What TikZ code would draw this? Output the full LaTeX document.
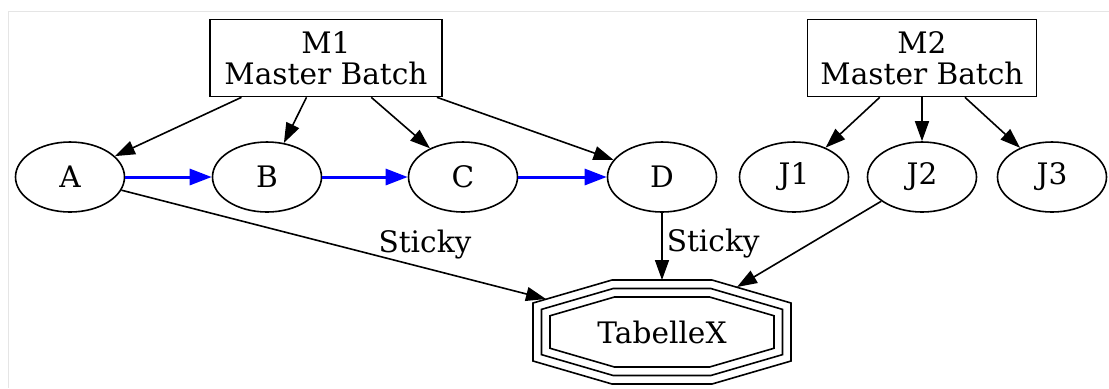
\documentclass[tikz,border=0pt]{standalone}
\usepackage{fontspec}
\setmainfont{DejaVu Serif}
\usepackage{tikz}
\usetikzlibrary{arrows.meta,shapes.geometric}

\begin{document}
\begin{tikzpicture}[x=0.5pt, y=-0.5pt,
  every node/.style={font=\fontsize{14.8}{15.5}\selectfont},
  batch/.style={draw, thick, align=center, minimum width=116pt,
                minimum height=38.5pt, inner sep=0pt},
  job/.style={draw, thick, ellipse, minimum width=54.5pt,
              minimum height=35pt, inner sep=0pt},
  arr/.style={-{Triangle[length=10pt,width=7pt]}, thick},
  seq/.style={-{Triangle[length=11pt,width=8pt]}, blue, line width=1.5pt},
  lbl/.style={inner sep=2pt}]

  % page frame and margins
  \useasboundingbox (0,0) rectangle (1109,388);
  \draw[black!10] (8,388) -- (8,11) -- (1109,11);

  \node[batch] (m1) at (326,58)  {M1\\Master Batch};
  \node[batch, minimum width=114.5pt] (m2) at (922,58) {M2\\Master Batch};

  \node[job] (a)  at (70,177)   {A};
  \node[job] (b)  at (267,177)  {B};
  \node[job] (c)  at (463,177)  {C};
  \node[job] (d)  at (662,177)  {D};
  \node[job] (j1) at (794,177)  {J1};
  \node[job] (j2) at (922,177)  {J2};
  \node[job] (j3) at (1052,177) {J3};

  % target table: three nested octagons round the text
  \node (tab) at (662,332) {TabelleX};
  \foreach \d in {0,8.5,17}
    \draw[thick, shift={(tab.center)}]
      ({-50+0.143*\d},{-52+\d}) -- ({50-0.143*\d},{-52+\d})
      -- ({129-\d},{-29+0.75*\d}) -- ({129-\d},{29-0.75*\d})
      -- ({50-0.143*\d},{52-\d}) -- ({-50+0.143*\d},{52-\d})
      -- ({-129+\d},{29-0.75*\d}) -- ({-129+\d},{-29+0.75*\d}) -- cycle;
  \path (tab.center) ++(-116,-33) coordinate (tabA);
  \path (tab.center) ++(0,-52)    coordinate (tabD);
  \path (tab.center) ++(75,-45)   coordinate (tabJ);

  \draw[arr] (m1) -- (a);
  \draw[arr] (m1) -- (b);
  \draw[arr] (m1) -- (c);
  \draw[arr] (m1) -- (d);
  \draw[arr] (m2) -- (j1);
  \draw[arr] (m2) -- (j2);
  \draw[arr] (m2) -- (j3);

  \draw[seq] (a) -- (b);
  \draw[seq] (b) -- (c);
  \draw[seq] (c) -- (d);

  \draw[arr] (a)  -- node[lbl, pos=0.715, above, yshift=2pt] {Sticky} (tabA);
  \draw[arr] (d)  -- node[lbl, pos=0.45, right] {Sticky} (tabD);
  \draw[arr] (j2) -- (tabJ);
\end{tikzpicture}
\end{document}
